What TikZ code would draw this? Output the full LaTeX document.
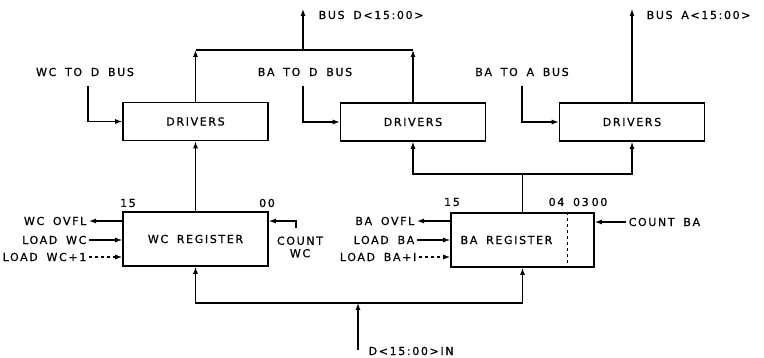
\documentclass[tikz,border=0pt]{standalone}
\usepackage{fontspec}
\newfontfamily\leroy[LetterSpace=15,WordSpace=1.7,FakeBold=0.8]{DejaVu Sans}
\usetikzlibrary{arrows.meta,positioning}
\newcommand{\lblfont}{\leroy\fontsize{11}{12.5}\selectfont}
\tikzset{
  drv/.style={draw, line width=1.6pt, minimum width=145pt, minimum height=38pt, inner sep=0pt, font=\lblfont},
  reg/.style={draw, line width=1.6pt, minimum height=54pt, font=\lblfont},
  lbl/.style={inner sep=2.5pt, align=center, font=\lblfont},
  arrow/.style={-{Latex[length=7pt,width=5pt]}, line width=1.2pt},
  wire/.style={line width=1.2pt}
}

\begin{document}
\begin{tikzpicture}[x=1pt,y=-1pt]
  \useasboundingbox (0,0) rectangle (764,358);
  % drivers
  \node[drv] (drvwc) at (195.5,121.5) {DRIVERS};
  \node[drv] (drvbd) at (413,122) {DRIVERS};
  \node[drv] (drvba) at (632,122) {DRIVERS};
  % registers
  \node[reg, minimum width=145pt] (wcreg) at (195.5,239) {WC REGISTER};
  \node[reg, minimum width=143pt] (bareg) at (522.5,240) {BA REGISTER\hspace*{32pt}};
  \draw[wire, dashed] ([xshift=-27pt]bareg.north east) -- ([xshift=-27pt]bareg.south east);
  \node[lbl] (wchi) at (128,203) {15};
  \node[lbl] (wclo) at (267,203) {00};
  \node[lbl] (bahi) at (452,202) {15};
  \node[lbl] (balo) at (578,202) {04 03\hspace{3pt}00};
  % driver enables
  \node[lbl] (wcdlbl) at (85,72) {WC TO D BUS};
  \node[lbl] (bdlbl) at (305,72) {BA TO D BUS};
  \node[lbl] (balbl) at (522,72) {BA TO A BUS};
  \coordinate (wcdsel) at (88,86);
  \coordinate (bdsel) at (303,86);
  \coordinate (basel) at (522,86);
  \draw[arrow] (wcdsel) |- (drvwc.west);
  \draw[arrow] (bdsel) |- (drvbd.west);
  \draw[arrow] (basel) |- (drvba.west);
  % bus D and bus A
  \coordinate (busd) at (303,50);
  \coordinate (busdtop) at (303,9);
  \draw[arrow] (drvwc.north) -- (drvwc.north |- busd);
  \draw[arrow] (drvbd.north) -- (drvbd.north |- busd);
  \draw[wire] (drvwc.north |- busd) -- (drvbd.north |- busd);
  \draw[arrow] (busd) -- (busdtop);
  \node[lbl, anchor=west] (busdlbl) at (316,15) {BUS D<15:00>};
  \coordinate (busatop) at (632,9);
  \draw[arrow] (drvba.north) -- (busatop);
  \node[lbl, anchor=west] (busalbl) at (644,15) {BUS A<15:00>};
  % register outputs
  \draw[arrow] (wcreg.north) -- (drvwc.south);
  \coordinate (bajoin) at (522.5,174);
  \draw[wire] (bareg.north) -- (bajoin);
  \draw[arrow] (bajoin) -| (drvbd.south);
  \draw[arrow] (bajoin) -| (drvba.south);
  % data in
  \coordinate (dbus) at (358,303);
  \coordinate (dinbot) at (358,350);
  \draw[arrow] (dinbot) -- (dbus);
  \draw[arrow] (dbus) -| (wcreg.south);
  \draw[arrow] (dbus) -| (bareg.south);
  \node[lbl, anchor=west] (dinlbl) at (366,351) {D<15:00>IN};
  % WC register controls
  \node[lbl, anchor=east] (wcovfl) at (89,221) {WC OVFL};
  \node[lbl, anchor=east] (ldwc) at (89,240) {LOAD WC};
  \node[lbl, anchor=east] (ldwc1) at (89,257) {LOAD WC+1};
  \draw[arrow] (wcreg.west |- wcovfl) -- (wcovfl.east);
  \draw[arrow] (ldwc.east) -- (wcreg.west |- ldwc);
  \draw[arrow, dashed] (ldwc1.east) -- (wcreg.west |- ldwc1);
  \node[lbl] (cntwc) at (300,247) {COUNT\\WC};
  \coordinate (cntwcin) at (296,228);
  \draw[arrow] (cntwcin) |- (wcreg.east |- wcovfl);
  % BA register controls
  \node[lbl, anchor=east] (baovfl) at (417,221) {BA OVFL};
  \node[lbl, anchor=east] (ldba) at (417,240) {LOAD BA};
  \node[lbl, anchor=east] (ldba1) at (419,257) {LOAD BA+I};
  \draw[arrow] (bareg.west |- baovfl) -- (baovfl.east);
  \draw[arrow] (ldba.east) -- (bareg.west |- ldba);
  \draw[arrow, dashed] (ldba1.east) -- (bareg.west |- ldba1);
  \node[lbl, anchor=west] (cntba) at (626,222) {COUNT BA};
  \draw[arrow] (cntba.west) -- (bareg.east |- cntba);
\end{tikzpicture}
\end{document}
